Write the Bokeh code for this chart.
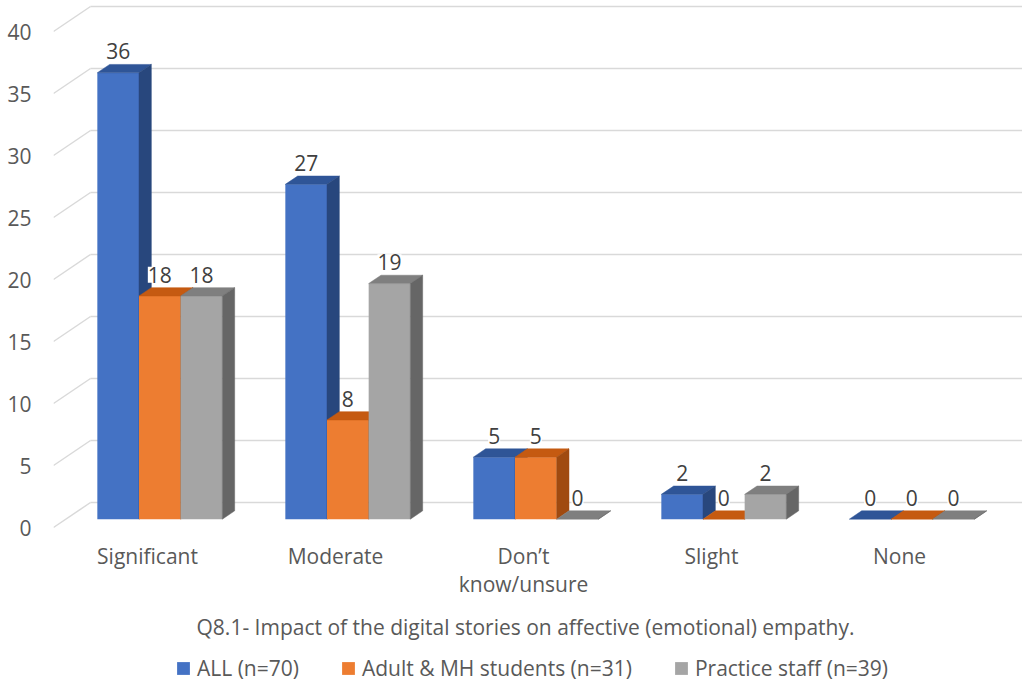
from bokeh.plotting import figure
from bokeh.models import Range1d, FixedTicker, Legend, LegendItem
from bokeh.core.properties import value
from bokeh.embed import file_html
from bokeh.resources import INLINE

# ---------------- data ----------------
categories = ["Significant", "Moderate", "Don\u2019t\nknow/unsure", "Slight", "None"]
series_names = ["ALL (n=70)", "Adult & MH students (n=31)", "Practice staff (n=39)"]
all_vals = [36, 27, 5, 2, 0]
adult_vals = [18, 8, 5, 0, 0]
staff_vals = [18, 19, 0, 2, 0]
y_ticks = [0, 5, 10, 15, 20, 25, 30, 35, 40]
chart_title = "Q8.1- Impact of the digital stories on affective (emotional) empathy."

series_values = [all_vals, adult_vals, staff_vals]

# ---------------- style / geometry ----------------
W, H = 1022, 689
LEFT = 53
PX_X = 188.0          # pixels per category
PX_Y = 12.4           # pixels per value unit
FLOOR_PX = 527        # pixel row of value 0 at the floor front
DX = 37.0 / PX_X      # full depth offset (x, data units)
DY = 25.0 / PX_Y      # full depth offset (y, data units)
GW = 125.0 / PX_X     # group width
BW = GW / 3.0
FONT = "Open Sans"
FS = "21px"
TXT = "#595959"
front_cols = ["#4472C4", "#ED7D31", "#A5A5A5"]
top_cols = ["#2F5597", "#C55A11", "#7F7F7F"]
side_cols = ["#28477D", "#A04A10", "#666666"]
GRID = "#D9D9D9"

x_end = (W - LEFT) / PX_X
p = figure(width=W, height=H,
           x_range=Range1d(0, x_end),
           y_range=Range1d(-(H - FLOOR_PX) / PX_Y, FLOOR_PX / PX_Y),
           output_backend="svg", toolbar_location=None,
           min_border_left=LEFT, min_border_right=0, min_border_top=0, min_border_bottom=0,
           x_axis_location=None, y_axis_location="left")
p.outline_line_color = None
p.xgrid.visible = False
p.ygrid.visible = False
p.background_fill_color = "white"
p.border_fill_color = "white"

yax = p.yaxis[0]
yax.ticker = FixedTicker(ticks=y_ticks)
yax.axis_line_color = None
yax.major_tick_line_color = None
yax.minor_tick_line_color = None
yax.major_tick_out = 0
yax.major_tick_in = 0
yax.minor_tick_out = 0
yax.major_label_standoff = 22
yax.major_label_text_font = FONT
yax.major_label_text_font_size = FS
yax.major_label_text_color = TXT

# ---- walls: back gridlines and side-wall diagonals ----
p.segment(x0=[DX] * len(y_ticks), y0=[v + DY for v in y_ticks],
          x1=[x_end + 0.2] * len(y_ticks), y1=[v + DY for v in y_ticks],
          line_color=GRID, line_width=1.5)
p.segment(x0=[0] * len(y_ticks), y0=y_ticks,
          x1=[DX] * len(y_ticks), y1=[v + DY for v in y_ticks],
          line_color=GRID, line_width=1.5)

# ---- 3D bars ----
fx, fy = DX / 3.0, DY / 3.0   # front plane of bars
bdx, bdy = DX / 3.0, DY / 3.0  # bar depth
front_renderers = []
label_x, label_y, label_t = [], [], []
for j, vals in enumerate(series_values):
    lefts, rights, tops, bottoms = [], [], [], []
    top_xs, top_ys, side_xs, side_ys = [], [], [], []
    for i, v in enumerate(vals):
        x0 = i + 0.5 - GW / 2 + j * BW + fx
        x1 = x0 + BW
        b = fy
        t = v + fy
        lefts.append(x0); rights.append(x1); bottoms.append(b); tops.append(t)
        top_xs.append([x0, x1, x1 + bdx, x0 + bdx])
        top_ys.append([t, t, t + bdy, t + bdy])
        side_xs.append([x1, x1, x1 + bdx, x1 + bdx])
        side_ys.append([b, t, t + bdy, b + bdy])
        label_x.append((x0 + x1) / 2)
        label_y.append(t + bdy)
        label_t.append(str(v))
    fr = p.quad(left=lefts, right=rights, bottom=bottoms, top=tops,
                fill_color=front_cols[j], line_color=None)
    p.patches(xs=top_xs, ys=top_ys, fill_color=top_cols[j], line_color=top_cols[j], line_width=0.5)
    p.patches(xs=side_xs, ys=side_ys, fill_color=side_cols[j], line_color=side_cols[j], line_width=0.5)
    front_renderers.append(fr)

# ---- data labels ----
p.text(x=label_x, y=label_y, text=label_t, y_offset=-13,
       text_font=value(FONT), text_font_size=FS, text_color="#404040",
       text_align="center", text_baseline="middle",
       background_fill_color="white", padding=0)

# ---- category labels ----
p.text(x=[i + 0.5 for i in range(len(categories))],
       y=[(FLOOR_PX - 541) / PX_Y] * len(categories),
       text=categories, text_font=value(FONT), text_font_size=FS,
       text_color=TXT, text_align="center", text_baseline="top", text_line_height=1.0)

# ---- axis title (below) ----
p.text(x=[(525 - LEFT) / PX_X], y=[(FLOOR_PX - 626) / PX_Y], text=[chart_title],
       text_font=value(FONT), text_font_size=FS, text_color=TXT,
       text_align="center", text_baseline="middle")

# ---- legend ----
legend = Legend(items=[LegendItem(label=n, renderers=[r]) for n, r in zip(series_names, front_renderers)],
                orientation="horizontal", location=(122, 7),
                glyph_width=16, glyph_height=16, label_standoff=6, spacing=41,
                padding=0, margin=0, border_line_color=None, background_fill_alpha=0,
                label_text_font=FONT, label_text_font_size=FS, label_text_color=TXT)
p.add_layout(legend)

open("out.html", "w").write(file_html(p, INLINE))
